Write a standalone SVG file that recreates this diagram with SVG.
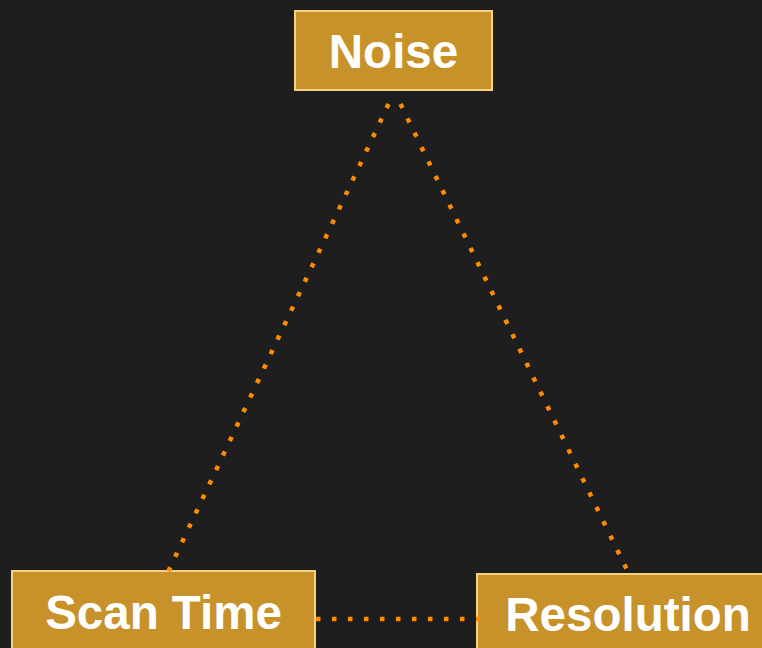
<svg xmlns="http://www.w3.org/2000/svg" width="762" height="648" viewBox="0 0 762 648">
<style>
.node rect{fill:#c7922a;stroke:#f6d27f;stroke-width:2}
.node text{font-family:"Liberation Sans",Arial,sans-serif;font-weight:bold;font-size:47.5px;fill:#ffffff;text-anchor:middle}
.edge{stroke:#ff8c00;stroke-width:4.5;stroke-dasharray:4.5 11.5;fill:none}
</style>
<rect x="0" y="0" width="762" height="648" fill="#1e1e1e"/>
<g id="noise" class="node">
<rect x="295" y="11" width="197" height="79"/>
<text x="393.5" y="68">Noise</text>
</g>
<g id="scan-time" class="node">
<rect x="12" y="571" width="303" height="96"/>
<text x="163.5" y="629">Scan Time</text>
</g>
<g id="resolution" class="node">
<rect x="477" y="574" width="300" height="96"/>
<text x="628" y="631">Resolution</text>
</g>
<g id="connectors">
<line class="edge" x1="388.5" y1="104" x2="168" y2="572"/>
<line class="edge" x1="400.5" y1="104" x2="627" y2="570"/>
<line class="edge" x1="316" y1="619" x2="480" y2="619"/>
</g>
</svg>
